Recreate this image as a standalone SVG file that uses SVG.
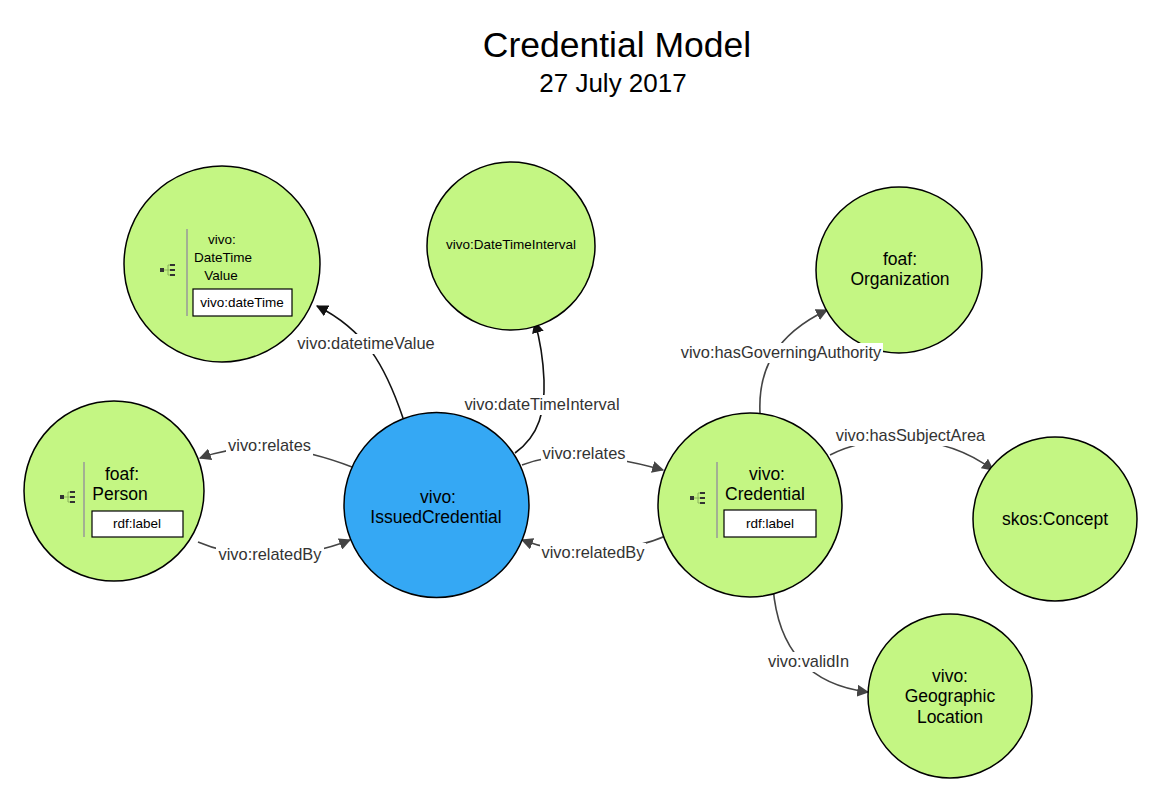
<svg xmlns="http://www.w3.org/2000/svg" width="1163" height="803" viewBox="0 0 1163 803">
<defs>
<style>
text{font-family:"Liberation Sans",Arial,sans-serif;fill:#000}
.node{fill:#c4f683;stroke:#000;stroke-width:1.5}
.blue{fill:#35a8f4;stroke:#000;stroke-width:1.5}
.nl{font-size:17.5px;text-anchor:middle}
.sl{font-size:13.5px;text-anchor:middle}
.box{fill:#fff;stroke:#000;stroke-width:1.2}
.vline{stroke:#999;stroke-width:1.5}
.edge{fill:none;stroke:#444;stroke-width:1.6}
.edgeb{fill:none;stroke:#111;stroke-width:1.6}
.el{font-size:16.4px;text-anchor:middle;fill:#333}
.lbg{fill:#fff}
.ic{fill:#333}
.icl{stroke:#8ab25a;stroke-width:1}
</style>
<marker id="ah" viewBox="0 0 10 10" refX="9" refY="5" markerWidth="12" markerHeight="12" markerUnits="userSpaceOnUse" orient="auto"><path d="M0,0 L10,5 L0,10 z" fill="#444"/></marker>
<marker id="ahb" viewBox="0 0 10 10" refX="9" refY="5" markerWidth="12" markerHeight="12" markerUnits="userSpaceOnUse" orient="auto"><path d="M0,0 L10,5 L0,10 z" fill="#111"/></marker>
<g id="icon">
<rect x="-7" y="-2" width="4" height="4" class="ic"/>
<path d="M-3,0 H1 M1,-5 V5 M1,-5 H4 M1,0 H4 M1,5 H4" class="icl"/>
<rect x="3" y="-6" width="5" height="2" class="ic"/>
<rect x="3" y="-1" width="5" height="2" class="ic"/>
<rect x="3" y="4" width="5" height="2" class="ic"/>
</g>
</defs>
<rect width="1163" height="803" fill="#fff"/>
<g id="title">
<text x="617" y="57" font-size="35.5" text-anchor="middle">Credential Model</text>
<text x="613" y="92" font-size="26" text-anchor="middle">27 July 2017</text>
</g>
<g id="connectors">
<path class="edgeb" d="M403,418 C385,365 365,330 317,306" marker-end="url(#ahb)"/>
<path class="edgeb" d="M515,453 C540,435 545,410 544,380 C543,355 540,340 535,322" marker-end="url(#ahb)"/>
<path class="edge" d="M352,467 C300,447 250,440 200,458" marker-end="url(#ah)"/>
<path class="edge" d="M198,542 C240,560 300,560 350,540" marker-end="url(#ah)"/>
<path class="edge" d="M522,465 C560,450 610,455 663,470" marker-end="url(#ah)"/>
<path class="edge" d="M668,535 C630,552 570,558 522,540" marker-end="url(#ah)"/>
<path class="edge" d="M760,413 C758,370 775,335 827,310" marker-end="url(#ah)"/>
<path class="edge" d="M830,455 C870,435 940,430 993,470" marker-end="url(#ah)"/>
<path class="edge" d="M773,587 C778,650 810,685 868,692" marker-end="url(#ah)"/>
</g>
<g id="node-datetimevalue">
<circle class="node" cx="222" cy="264" r="98"/>
<line class="vline" x1="187" y1="229" x2="187" y2="316"/>
<use href="#icon" x="167" y="270"/>
<text class="sl" x="222" y="244">vivo:</text>
<text class="sl" x="223" y="262">DateTime</text>
<text class="sl" x="221" y="280">Value</text>
<rect class="box" x="193" y="289" width="99" height="27"/>
<text class="sl" x="242" y="307">vivo:dateTime</text>
</g>
<g id="node-datetimeinterval">
<circle class="node" cx="511" cy="246" r="84"/>
<text class="sl" x="511" y="249">vivo:DateTimeInterval</text>
</g>
<g id="node-organization">
<circle class="node" cx="899" cy="270" r="83"/>
<text class="nl" x="900" y="265">foaf:</text>
<text class="nl" x="900" y="285">Organization</text>
</g>
<g id="node-person">
<circle class="node" cx="114" cy="491" r="90"/>
<line class="vline" x1="84" y1="462" x2="84" y2="537"/>
<use href="#icon" x="67" y="497"/>
<text class="nl" x="122" y="480">foaf:</text>
<text class="nl" x="120" y="500">Person</text>
<rect class="box" x="92" y="511" width="91" height="26"/>
<text class="sl" x="137" y="528">rdf:label</text>
</g>
<g id="node-issuedcredential">
<circle class="blue" cx="436.5" cy="505" r="92.5"/>
<text class="nl" x="438" y="503">vivo:</text>
<text class="nl" x="436" y="523">IssuedCredential</text>
</g>
<g id="node-credential">
<circle class="node" cx="750" cy="505" r="92"/>
<line class="vline" x1="717" y1="462" x2="717" y2="538"/>
<use href="#icon" x="697" y="498"/>
<text class="nl" x="767" y="480">vivo:</text>
<text class="nl" x="765" y="500">Credential</text>
<rect class="box" x="724" y="510" width="92" height="27"/>
<text class="sl" x="770" y="528">rdf:label</text>
</g>
<g id="node-concept">
<circle class="node" cx="1055" cy="519" r="82"/>
<text class="nl" x="1055" y="525">skos:Concept</text>
</g>
<g id="node-geographiclocation">
<circle class="node" cx="950" cy="696" r="82"/>
<text class="nl" x="950" y="682">vivo:</text>
<text class="nl" x="950" y="702">Geographic</text>
<text class="nl" x="950" y="723">Location</text>
</g>
<g id="edge-labels">
<rect class="lbg" x="295" y="334" width="142" height="20"/>
<text class="el" x="366" y="349">vivo:datetimeValue</text>
<rect class="lbg" x="462" y="395" width="160" height="20"/>
<text class="el" x="542" y="410">vivo:dateTimeInterval</text>
<rect class="lbg" x="226" y="436" width="87" height="20"/>
<text class="el" x="269.5" y="451">vivo:relates</text>
<rect class="lbg" x="216" y="545" width="108" height="20"/>
<text class="el" x="270" y="560">vivo:relatedBy</text>
<rect class="lbg" x="541" y="444" width="86" height="20"/>
<text class="el" x="584" y="459">vivo:relates</text>
<rect class="lbg" x="540" y="543" width="106" height="20"/>
<text class="el" x="593" y="558">vivo:relatedBy</text>
<rect class="lbg" x="679" y="343" width="204" height="20"/>
<text class="el" x="781" y="358">vivo:hasGoverningAuthority</text>
<rect class="lbg" x="834" y="426" width="153" height="20"/>
<text class="el" x="910.5" y="441">vivo:hasSubjectArea</text>
<rect class="lbg" x="766" y="652" width="85" height="20"/>
<text class="el" x="808.5" y="667">vivo:validIn</text>
</g>
</svg>
